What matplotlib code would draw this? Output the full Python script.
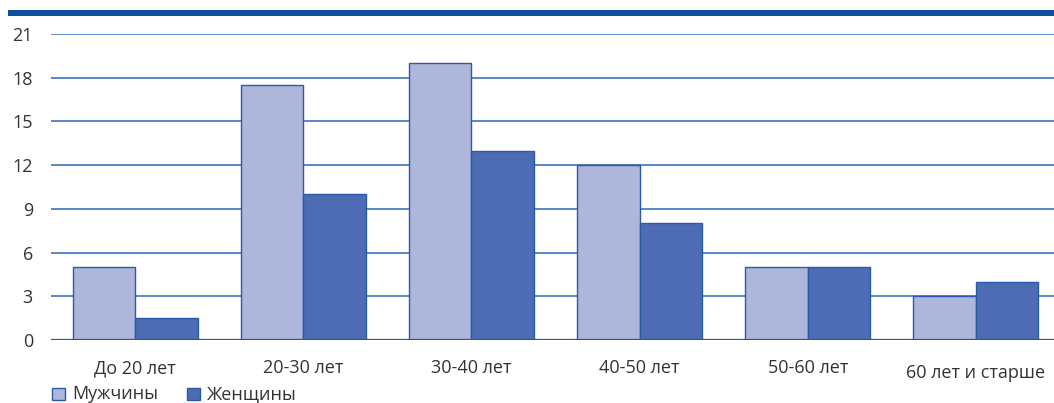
import matplotlib
matplotlib.use("Agg")
import matplotlib.pyplot as plt
from matplotlib.patches import Rectangle
import numpy as np

categories = ["До 20 лет", "20-30 лет", "30-40 лет", "40-50 лет", "50-60 лет", "60 лет и старше"]
men = [5, 17.5, 19, 12, 5, 3]
women = [1.5, 10, 13, 8, 5, 4]
yticks = [0, 3, 6, 9, 12, 15, 18, 21]
series_labels = ["Мужчины", "Женщины"]

plt.rcParams["font.family"] = ["Open Sans", "DejaVu Sans"]
text_color = "#333333"
men_color = "#aeb6db"
women_color = "#4e6cb4"
edge_color = "#2a5aa8"
grid_color = "#3f73bd"

W, H = 1054, 403
fig = plt.figure(figsize=(W / 100, H / 100), dpi=100)
# plot area runs slightly past the right edge of the figure
ax = fig.add_axes([51 / W, 1 - 340 / H, 1009 / W, 306 / H])

x = np.arange(len(categories))
bw = 0.372
ax.bar(x - bw / 2, men, width=bw, color=men_color, edgecolor=edge_color, linewidth=1.0, zorder=3)
ax.bar(x + bw / 2, women, width=bw, color=women_color, edgecolor=edge_color, linewidth=1.0, zorder=3)

ax.set_xlim(-0.5, len(categories) - 0.5)
ax.set_ylim(0, 21)
ax.set_yticks(yticks)
ax.set_yticklabels([str(v) for v in yticks])
ax.yaxis.grid(True, color=grid_color, linewidth=1.2, zorder=0)
ax.set_axisbelow(True)
for s in ax.spines.values():
    s.set_visible(False)
ax.axhline(0, color="#2459a8", linewidth=1.6, zorder=4)
ax.tick_params(axis="y", length=0, pad=13, labelsize=13, labelcolor=text_color)
ax.tick_params(axis="x", length=0, pad=14, labelsize=13, labelcolor=text_color)
ax.set_xticks(x)
ax.set_xticklabels(categories)
ax.get_xticklabels()[-1].set_y(-0.016)

# thick rule above the chart
fig.add_artist(Rectangle((8 / W, 1 - 16 / H), (W - 8) / W, 6 / H,
                         transform=fig.transFigure, color="#0e4f9e", lw=0))

# legend at bottom left
for (px, label, col) in [(52, series_labels[0], men_color), (187, series_labels[1], women_color)]:
    fig.add_artist(Rectangle((px / W, 1 - 400 / H), 13 / W, 12 / H,
                             transform=fig.transFigure, facecolor=col,
                             edgecolor=edge_color, lw=1.0))
    fig.text((px + 20) / W, 1 - 394 / H, label, fontsize=13, color=text_color,
             va="center", ha="left")

fig.savefig("out.png", dpi=100)
